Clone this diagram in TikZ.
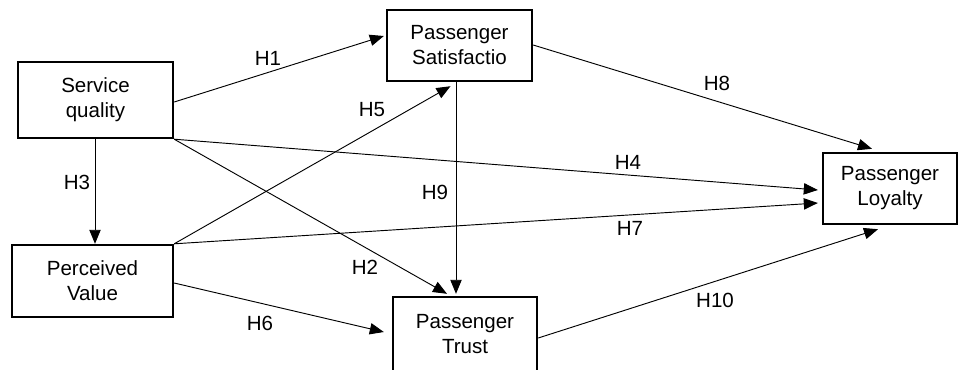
\documentclass[tikz,border=0pt]{standalone}
\usepackage{fontspec}
\setmainfont{Liberation Sans}
\usetikzlibrary{arrows.meta,calc}
\begin{document}
\begin{tikzpicture}[x=0.75pt,y=-0.75pt,
  box/.style={draw,line width=1.8pt,align=center,inner sep=0pt,font=\fontsize{15.4}{18.75}\selectfont},
  lbl/.style={font=\fontsize{15.4}{18.75}\selectfont,inner sep=0pt},
  arr/.style={line width=0.7pt,-{Triangle[length=10.5pt,width=8.5pt]}}]
\useasboundingbox (0,0) rectangle (959,369);
\fill[white] (0,0) rectangle (959,369);
% boxes
\node[box,minimum width=116.25pt,minimum height=57pt] (sq) at (95.5,100) {Service\\quality};
\node[box,minimum width=108.75pt,minimum height=53.25pt] (sat) at (459.5,45.5) {Passenger\\Satisfactio};
\node[box,minimum width=100.5pt,minimum height=53.25pt] (loy) at (890,188.5) {Passenger\\Loyalty};
\node[box,minimum width=120.75pt,minimum height=54pt] (pv) at (92.5,281) {Perceived\\Value};
\node[box,minimum width=108pt,minimum height=55.5pt] (tr) at (465,334) {Passenger\\Trust};
% connectors
\draw[arr] ($(sq.east)+(0,2)$) -- ($(sat.west)+(-2,-9.5)$);
\draw[arr] ($(sat.east)+(0,-0.5)$) -- ($(loy.north)+(-18,-3)$);
\draw[arr] (sq.south east) -- ($(loy.west)+(-4,1.5)$);
\draw[arr] (pv.north east) -- ($(loy.west)+(-4,14.5)$);
\draw[arr] ($(tr.east)+(0,4)$) -- ($(loy.south)+(-12,4)$);
\draw[arr] (sq.south east) -- ($(tr.north)+(-18,-2)$);
\draw[arr] ($(sat.south)+(-3.5,0)$) -- ($(tr.north)+(-9,-2)$);
\draw[arr] ($(sq.south)+(-0.5,0)$) -- ($(pv.north)+(2.5,0)$);
\draw[arr] (pv.north east) -- ($(sat.south)+(-9,4)$);
\draw[arr] ($(pv.east)+(0,2)$) -- ($(tr.west)+(-8,-2)$);
% labels
\node[lbl] (l1) at (268,58) {H1};
\node[lbl] (l8) at (717,83) {H8};
\node[lbl] (l5) at (372,110) {H5};
\node[lbl] (l4) at (628,162) {H4};
\node[lbl] (l3) at (77,182) {H3};
\node[lbl] (l9) at (435,192) {H9};
\node[lbl] (l7) at (630,228) {H7};
\node[lbl] (l2) at (365,267) {H2};
\node[lbl] (l10) at (715,300) {H10};
\node[lbl] (l6) at (260,323) {H6};
\end{tikzpicture}
\end{document}
